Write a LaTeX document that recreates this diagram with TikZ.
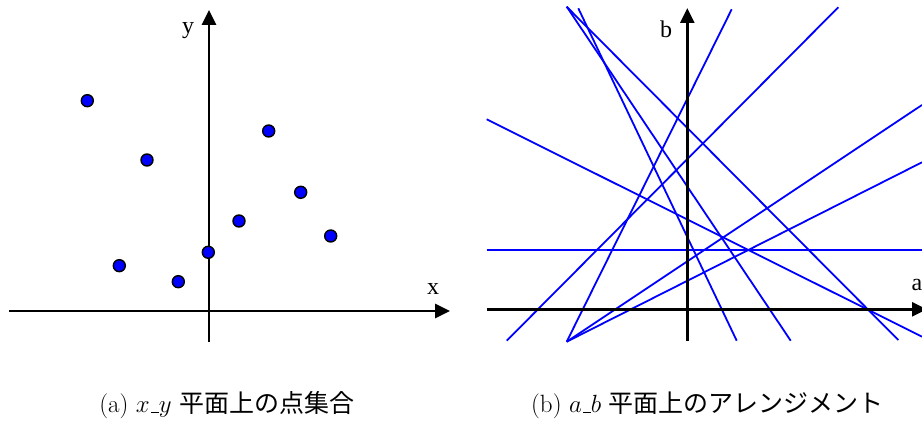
\documentclass[tikz,border=0pt]{standalone}
\usepackage{fontspec}
\newfontfamily\axisfont{Liberation Serif}
\newfontfamily\jpfont{Noto Sans CJK JP}
\newcommand{\ulbar}{\leavevmode\kern.06em\vbox{\hrule width.3em height.04em}}
\usepackage{tikz}
\usetikzlibrary{arrows.meta}

\tikzset{
  axis/.style={line width=2.8pt, -{Triangle[length=15pt,width=14pt]}},
  axislabel/.style={font=\fontsize{24}{28}\selectfont\axisfont},
  dot/.style={circle, draw=black, fill=blue, line width=1.4pt,
              inner sep=0pt, minimum size=12pt},
  dualline/.style={blue, line width=1.8pt},
  caption/.style={anchor=base, font=\fontsize{25}{30}\selectfont}
}

\begin{document}
\begin{tikzpicture}[x=1pt, y=-1pt]
  \useasboundingbox (0,0) rectangle (922,427);

  % (a) x-y plane --- axes
  \coordinate (xL) at (9,311);
  \coordinate (xR) at (450,311);
  \coordinate (yB) at (209,342);
  \coordinate (yT) at (209,10);
  \draw[axis] (xL) -- (xR);
  \draw[axis] (yB) -- (yT);
  \node[axislabel] (xlab) at (433,289) {x};
  \node[axislabel] (ylab) at (188,31) {y};

  % point set
  \foreach \k/\px/\py in {1/87.3/100.7, 2/147/160, 3/119.3/265.7,
                          4/178.3/281.7, 5/208.3/252.3, 6/239/221,
                          7/268.7/131, 8/300.7/192.3, 9/330.7/236} {
    \node[dot] (p\k) at (\px,\py) {};
  }

  % (b) a-b plane --- dual lines (drawn under the axes)
  \coordinate (V) at (566.7,341.7);
  \foreach \k/\sx/\sy/\ex/\ey in {1/486.7/250/922/250,
                                  2/486.7/119.3/922/336.7,
                                  3/566.7/6.7/898.3/340,
                                  4/578.3/8.3/736.7/340.7,
                                  5/566.7/6.7/790.7/340.7,
                                  6/566.7/341.7/731.7/9.3,
                                  7/506.7/340.7/838.3/7.3,
                                  8/566.7/341.7/922/105,
                                  9/566.7/341.7/922/162.3} {
    \coordinate (L\k s) at (\sx,\sy);
    \coordinate (L\k e) at (\ex,\ey);
    \draw[dualline] (L\k s) -- (L\k e);
  }

  % axes
  \coordinate (aL) at (486.7,309.3);
  \coordinate (aR) at (927,309.3);
  \coordinate (bB) at (687.3,341);
  \coordinate (bT) at (687.3,8);
  \draw[axis] (aL) -- (aR);
  \draw[axis] (bB) -- (bT);
  \node[axislabel] (alab) at (917,285) {a};
  \node[axislabel] (blab) at (666,29) {b};

  % captions
  \node[caption] (capa) at (226.7,413) {(a) $x$\ulbar$y$ {\jpfont 平面上の点集合}};
  \node[caption] (capb) at (707.5,413) {(b) $a$\ulbar$b$ {\jpfont 平面上のアレンジメント}};
\end{tikzpicture}
\end{document}
